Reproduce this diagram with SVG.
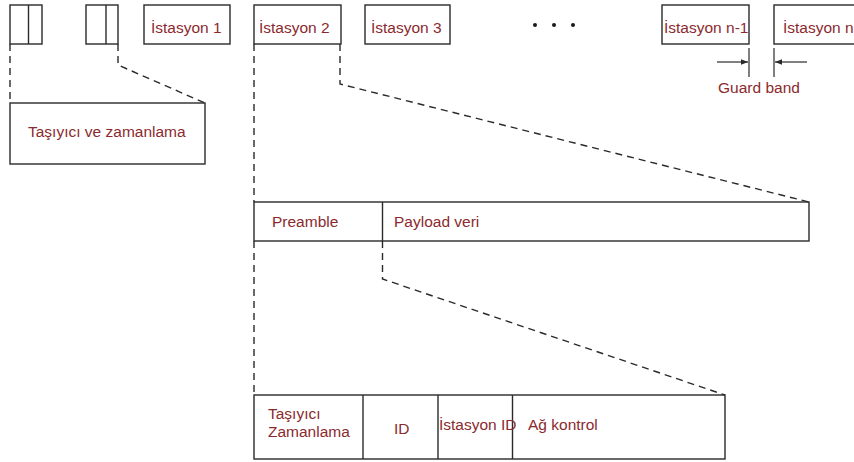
<svg xmlns="http://www.w3.org/2000/svg" width="854" height="462" viewBox="0 0 854 462">
  <style>
    .box { fill: #ffffff; stroke: #2a2a2a; stroke-width: 1.4; }
    .div { stroke: #2a2a2a; stroke-width: 1.4; }
    .dash { fill: none; stroke: #2a2a2a; stroke-width: 1.4; stroke-dasharray: 7 5; }
    .lbl { font-family: "Liberation Sans", Arial, sans-serif; font-size: 15.5px; fill: #8b2a2e; }
    .guide { stroke: #2a2a2a; stroke-width: 1.2; }
  </style>
  <defs>
    <marker id="arrow" viewBox="0 0 10 10" refX="10" refY="5" markerWidth="7" markerHeight="7" orient="auto" markerUnits="userSpaceOnUse">
      <path d="M0,1 L10,5 L0,9 Z" fill="#2a2a2a"/>
    </marker>
  </defs>
  <rect width="854" height="462" fill="#ffffff"/>

  <!-- top row: frame slots -->
  <g id="slot-a">
    <rect class="box" x="10" y="5" width="32" height="39"/>
    <line class="div" x1="28.5" y1="5" x2="28.5" y2="44"/>
  </g>
  <g id="slot-b">
    <rect class="box" x="86" y="5" width="32" height="39"/>
    <line class="div" x1="106" y1="5" x2="106" y2="44"/>
  </g>
  <g id="station-1">
    <rect class="box" x="144" y="5" width="86" height="39"/>
    <text class="lbl" x="151" y="33">İstasyon 1</text>
  </g>
  <g id="station-2">
    <rect class="box" x="254" y="5" width="87" height="39"/>
    <text class="lbl" x="259" y="33">İstasyon 2</text>
  </g>
  <g id="station-3">
    <rect class="box" x="365" y="5" width="85" height="39"/>
    <text class="lbl" x="371" y="33">İstasyon 3</text>
  </g>
  <g id="ellipsis">
    <circle cx="535" cy="25" r="2" fill="#1a1a1a"/>
    <circle cx="554" cy="25" r="2" fill="#1a1a1a"/>
    <circle cx="573" cy="25" r="2" fill="#1a1a1a"/>
  </g>
  <g id="station-n-1">
    <rect class="box" x="662" y="5" width="87" height="39"/>
    <text class="lbl" x="664" y="33">İstasyon n-1</text>
  </g>
  <g id="station-n">
    <rect class="box" x="774" y="5" width="90" height="39"/>
    <text class="lbl" x="783" y="33">İstasyon n</text>
  </g>
  <g id="guard-band">
    <line class="guide" x1="749" y1="48" x2="749" y2="77"/>
    <line class="guide" x1="774" y1="48" x2="774" y2="77"/>
    <line class="guide" x1="717" y1="62" x2="748" y2="62" marker-end="url(#arrow)"/>
    <line class="guide" x1="807" y1="62" x2="775" y2="62" marker-end="url(#arrow)"/>
    <text class="lbl" x="718" y="93">Guard band</text>
  </g>

  <!-- expanded blocks -->
  <g id="carrier-timing">
    <rect class="box" x="10" y="103" width="195" height="61"/>
    <text class="lbl" x="28" y="137" font-size="16">Taşıyıcı ve zamanlama</text>
  </g>
  <g id="burst">
    <rect class="box" x="254" y="202" width="555" height="39"/>
    <line class="div" x1="382.5" y1="202" x2="382.5" y2="241"/>
    <text class="lbl" x="272" y="227">Preamble</text>
    <text class="lbl" x="394" y="227">Payload veri</text>
  </g>
  <g id="preamble-fields">
    <rect class="box" x="254" y="395" width="471" height="64"/>
    <line class="div" x1="363" y1="395" x2="363" y2="459"/>
    <line class="div" x1="438" y1="395" x2="438" y2="459"/>
    <line class="div" x1="512.5" y1="395" x2="512.5" y2="459"/>
    <text class="lbl" x="268" y="419">Taşıyıcı</text>
    <text class="lbl" x="268" y="437">Zamanlama</text>
    <text class="lbl" x="394" y="434">ID</text>
    <text class="lbl" x="439" y="430" font-size="14.8">İstasyon ID</text>
    <text class="lbl" x="528" y="430">Ağ kontrol</text>
  </g>

  <!-- zoom-out guides -->
  <g id="connectors">
    <path class="dash" d="M10,44 V103"/>
    <path class="dash" d="M118,44 V65 L205,103"/>
    <path class="dash" d="M254,44 V202"/>
    <path class="dash" d="M340,44 V84 L809,202"/>
    <path class="dash" d="M254,241 V395"/>
    <path class="dash" d="M382.5,241 V279 L725,395"/>
  </g>
</svg>
